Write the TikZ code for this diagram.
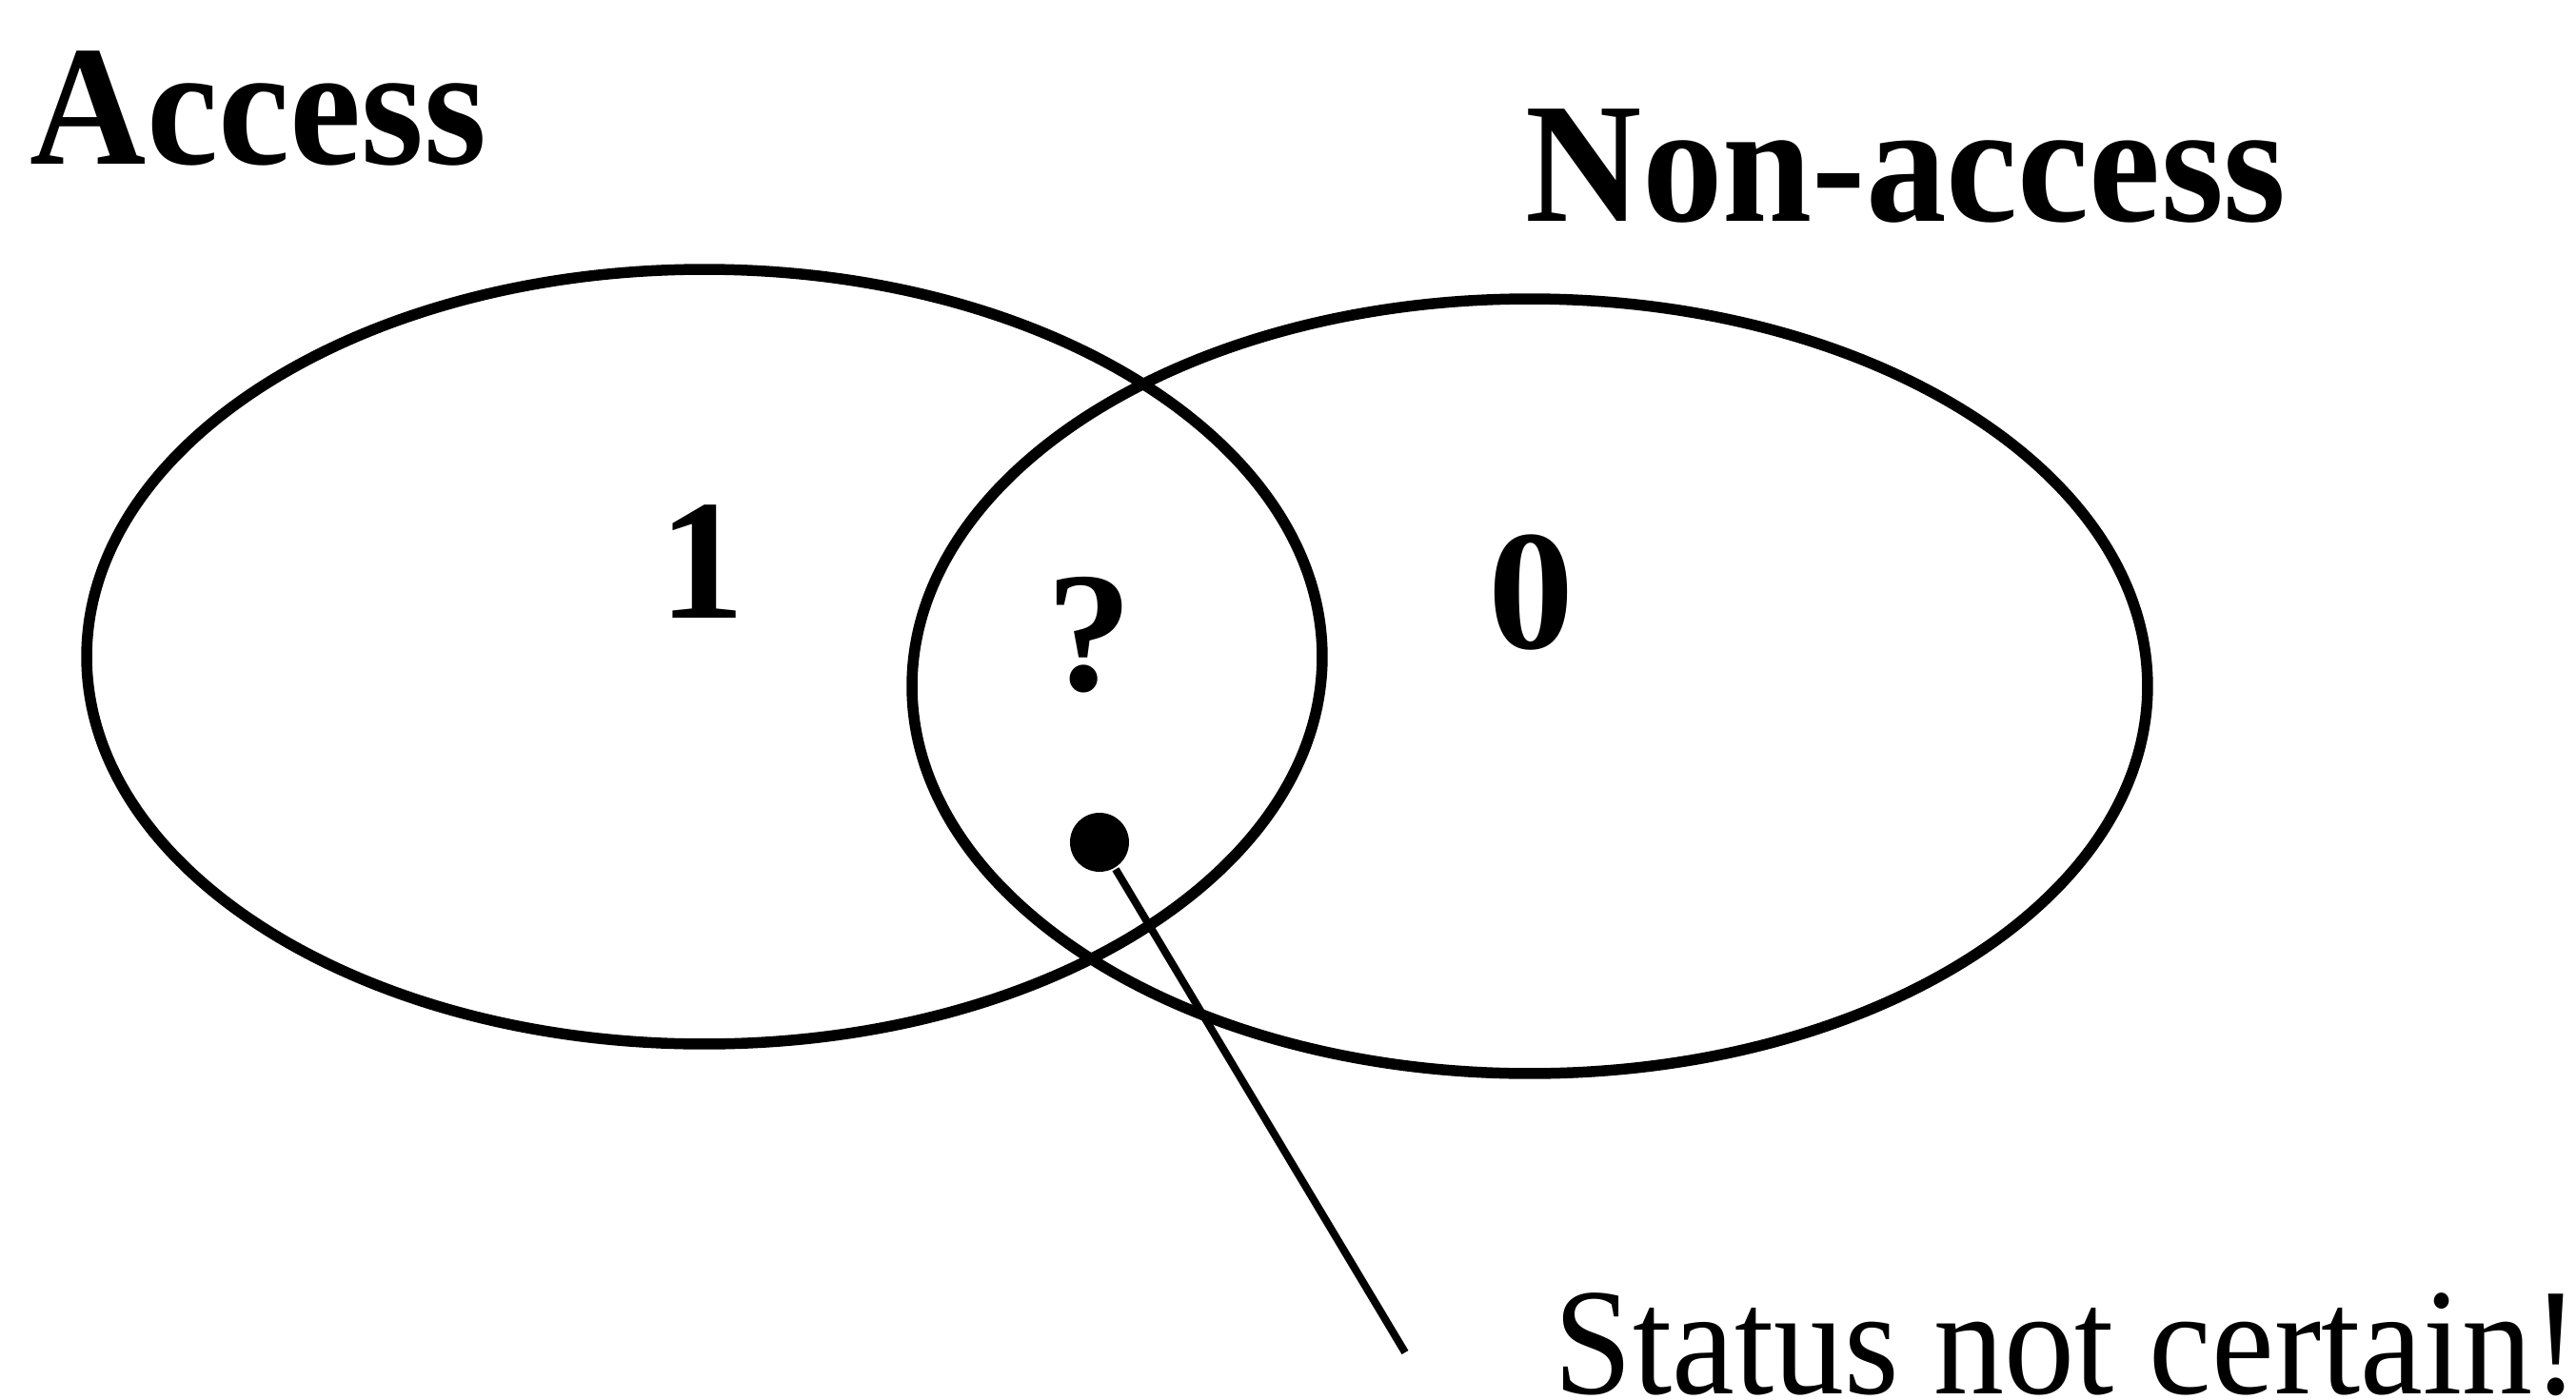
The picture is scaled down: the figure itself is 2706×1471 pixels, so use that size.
\documentclass[tikz,border=0pt]{standalone}
\usepackage{fontspec}
\setmainfont{Liberation Serif}
\usetikzlibrary{shapes.geometric}
\begin{document}
\begin{tikzpicture}[x=0.1pt,y=-0.1pt,
  setshape/.style={ellipse, draw, line width=1.15pt, inner sep=0pt,
    minimum width=129.8pt, minimum height=81.4pt},
  heading/.style={font=\fontsize{18}{18}\selectfont\bfseries, inner sep=0pt, anchor=base west},
  regionlabel/.style={font=\fontsize{18}{18}\selectfont\bfseries, inner sep=0pt, anchor=base},
  notelabel/.style={font=\fontsize{16}{16}\selectfont, inner sep=0pt, anchor=base west},
  pointdot/.style={circle, fill, inner sep=0pt, minimum size=6.2pt},
  leader/.style={line width=0.8pt}]
\useasboundingbox (0,0) rectangle (2706,1471);
\node[setshape] (access) at (740,690) {};
\node[setshape] (nonaccess) at (1607,721) {};
\node[heading] (accesslbl) at (30,172) {\scalebox{0.94}[1]{Access}};
\node[heading] (nonlbl) at (1601,232) {\scalebox{0.94}[1]{Non-access}};
\node[regionlabel] (one) at (738,649) {1};
\node[regionlabel] (unknown) at (1145,725) {?};
\node[regionlabel] (zero) at (1609,681) {0};
\node[pointdot] (dot) at (1155,885) {};
\coordinate (tip) at (1476,1421);
\draw[leader] (dot) -- (tip);
\node[notelabel] (status) at (1631,1465) {\scalebox{0.925}[1]{Status not certain!}};
\end{tikzpicture}
\end{document}
